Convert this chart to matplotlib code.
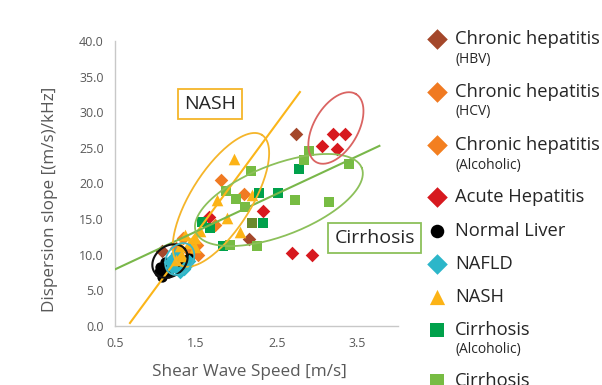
import numpy as np
import matplotlib
matplotlib.use('Agg')
import matplotlib.pyplot as plt

plt.rcParams['font.family'] = ['Open Sans', 'DejaVu Sans']

# measurements per group: shear wave speed [m/s], dispersion slope [(m/s)/kHz]
hbv_x = [2.74, 2.16, 1.08]
hbv_y = [26.9, 12.2, 10.5]
hcv_x = [1.81, 2.09, 1.53, 1.26]
hcv_y = [20.5, 18.5, 10.0, 10.9]
alc_x = [1.74, 1.43, 1.34, 1.51]
alc_y = [14.2, 10.4, 12.3, 11.3]
acute_x = [3.20, 3.35, 3.055, 3.25, 2.33, 2.69, 2.94, 1.66]
acute_y = [27.0, 27.0, 25.2, 24.8, 16.1, 10.2, 10.0, 15.3]
normal_x = [1.06, 1.04, 1.08, 1.12, 1.10, 1.15, 1.30, 1.42, 1.35]
normal_y = [8.3, 7.6, 6.9, 9.0, 8.0, 7.4, 8.8, 9.6, 9.3]
nafld_x = [1.22, 1.20, 1.39, 1.30, 1.27, 1.35, 1.18, 1.42]
nafld_y = [9.5, 8.3, 8.6, 7.6, 10.2, 8.0, 9.0, 9.1]
nash_x = [1.97, 1.76, 1.88, 2.05, 2.19, 1.37, 1.49, 1.49, 1.26, 1.30, 1.43, 1.55, 1.33]
nash_y = [23.4, 17.7, 15.1, 13.2, 18.4, 12.8, 12.3, 11.1, 9.3, 11.2, 11.6, 13.3, 9.8]
cirr_alc_x = [2.28, 2.52, 2.33, 1.58, 1.67, 1.84, 2.77]
cirr_alc_y = [18.6, 18.6, 14.4, 14.6, 13.7, 11.2, 22.1]
cirr_x = [2.90, 2.84, 3.40, 2.73, 3.15, 2.18, 1.87, 2.00, 2.11, 1.92, 2.25]
cirr_y = [24.5, 23.3, 22.8, 17.7, 17.4, 21.8, 18.9, 17.8, 16.7, 11.4, 11.2]
other_x = [2.20]
other_y = [14.4]

x_ticks = [0.5, 1.5, 2.5, 3.5]
y_ticks = [0, 5, 10, 15, 20, 25, 30, 35, 40]

C_HBV = '#a4472a'
C_HCV = '#f07a22'
C_ALC = '#f37f20'
C_ACUTE = '#d7191f'
C_NORMAL = '#000000'
C_NAFLD = '#2cb6c9'
C_NASH = '#fcb316'
C_CIRR_ALC = '#00a14b'
C_CIRR = '#77bc43'

fig = plt.figure(figsize=(6.02, 3.85), dpi=100)
ax = fig.add_axes([115 / 602, 1 - 326 / 385, 283 / 602, 285 / 385])

groups = [
    (hbv_x, hbv_y, 'D', C_HBV, 48),
    (hcv_x, hcv_y, 'D', C_HCV, 48),
    (alc_x, alc_y, 'D', C_ALC, 48),
    (acute_x, acute_y, 'D', C_ACUTE, 48),
    (normal_x, normal_y, 'o', C_NORMAL, 55),
    (nafld_x, nafld_y, 'D', C_NAFLD, 48),
    (nash_x, nash_y, '^', C_NASH, 70),
    (cirr_alc_x, cirr_alc_y, 's', C_CIRR_ALC, 60),
    (cirr_x, cirr_y, 's', C_CIRR, 60),
    (other_x, other_y, 's', '#6b8a2c', 60),
]
for gx, gy, m, c, s in groups:
    ax.scatter(gx, gy, marker=m, s=s, color=c, linewidths=0, zorder=3)

# linear trends
lx = np.array([0.685, 2.787])
ax.plot(lx, 15.42 * lx - 10.14, color='#fbb519', lw=1.5, zorder=4)
lx = np.array([0.5, 3.77])
ax.plot(lx, 5.3 * lx + 5.3, color='#79b74a', lw=1.5, zorder=4)


def ellipse(center, u, v, color, lw):
    t = np.linspace(0, 2 * np.pi, 200)
    ex = center[0] + u[0] * np.cos(t) + v[0] * np.sin(t)
    ey = center[1] + u[1] * np.cos(t) + v[1] * np.sin(t)
    ax.plot(ex, ey, color=color, lw=lw, zorder=5)


ellipse((1.81, 17.7), (0.507, 9.12), (0.314, -2.25), '#f5b52a', 1.3)
ellipse((2.527, 17.68), (1.026, 4.49), (0.158, -4.65), '#8cc05a', 1.3)
ellipse((3.232, 27.79), (0.247, 4.77), (0.235, -1.57), '#da6462', 1.3)
ellipse((1.18, 9.12), (0.185, 1.68), (0.116, -1.64), '#111111', 1.5)
ellipse((1.30, 9.4), (0.124, 1.96), (0.131, -1.07), '#3fb8c8', 1.3)

ax.text(1.674, 31.2, 'NASH', fontsize=14, color='#262626', ha='center', va='center', zorder=6,
        bbox=dict(boxstyle='square,pad=0.3', fc='white', ec='#f5b52a', lw=1.3))
ax.text(3.71, 12.35, 'Cirrhosis', fontsize=14, color='#262626', ha='center', va='center', zorder=6,
        clip_on=False,
        bbox=dict(boxstyle='square,pad=0.3', fc='white', ec='#8cc05a', lw=1.3))

ax.set_xlim(0.5, 4.0)
ax.set_ylim(0, 40)
ax.set_xticks(x_ticks)
ax.set_xticklabels([f'{v:.1f}' for v in x_ticks])
ax.set_yticks(y_ticks)
ax.set_yticklabels([f'{v:.1f}' for v in y_ticks])
ax.tick_params(length=0, labelsize=9, colors='#595959', pad=8)
for side in ['top', 'right']:
    ax.spines[side].set_visible(False)
for side in ['left', 'bottom']:
    ax.spines[side].set_color('#c8c8c8')
    ax.spines[side].set_linewidth(1.0)

fig.text(249 / 602, 1 - 372 / 385, 'Shear Wave Speed [m/s]', fontsize=12.3, color='#595959',
         ha='center', va='center')
fig.text(50 / 602, 1 - 199 / 385, 'Dispersion slope [(m/s)/kHz]', fontsize=12.3, color='#595959',
         ha='center', va='center', rotation=90)

# legend drawn in pixel coordinates on an overlay
lg = fig.add_axes([0, 0, 1, 1], facecolor='none')
lg.set_xlim(0, 602)
lg.set_ylim(385, 0)
lg.axis('off')
entries = [
    ('D', C_HBV, 110, 39, 'Chronic hepatitis', '(HBV)'),
    ('D', C_HCV, 110, 92, 'Chronic hepatitis', '(HCV)'),
    ('D', C_ALC, 110, 145, 'Chronic hepatitis', '(Alcoholic)'),
    ('D', C_ACUTE, 110, 197, 'Acute Hepatitis', None),
    ('o', C_NORMAL, 95, 231, 'Normal Liver', None),
    ('D', C_NAFLD, 110, 264, 'NAFLD', None),
    ('^', C_NASH, 120, 297, 'NASH', None),
    ('s', C_CIRR_ALC, 95, 330, 'Cirrhosis', '(Alcoholic)'),
    ('s', C_CIRR, 95, 381, 'Cirrhosis', None),
]
for m, c, s, py, main, sub in entries:
    lg.scatter([437], [py], marker=m, s=s, color=c, linewidths=0, clip_on=False)
    lg.text(455, py, main, fontsize=13.2, color='#262626', ha='left', va='center')
    if sub:
        lg.text(455, py + 20, sub, fontsize=10, color='#262626', ha='left', va='center')

fig.savefig('out.png', dpi=100)
